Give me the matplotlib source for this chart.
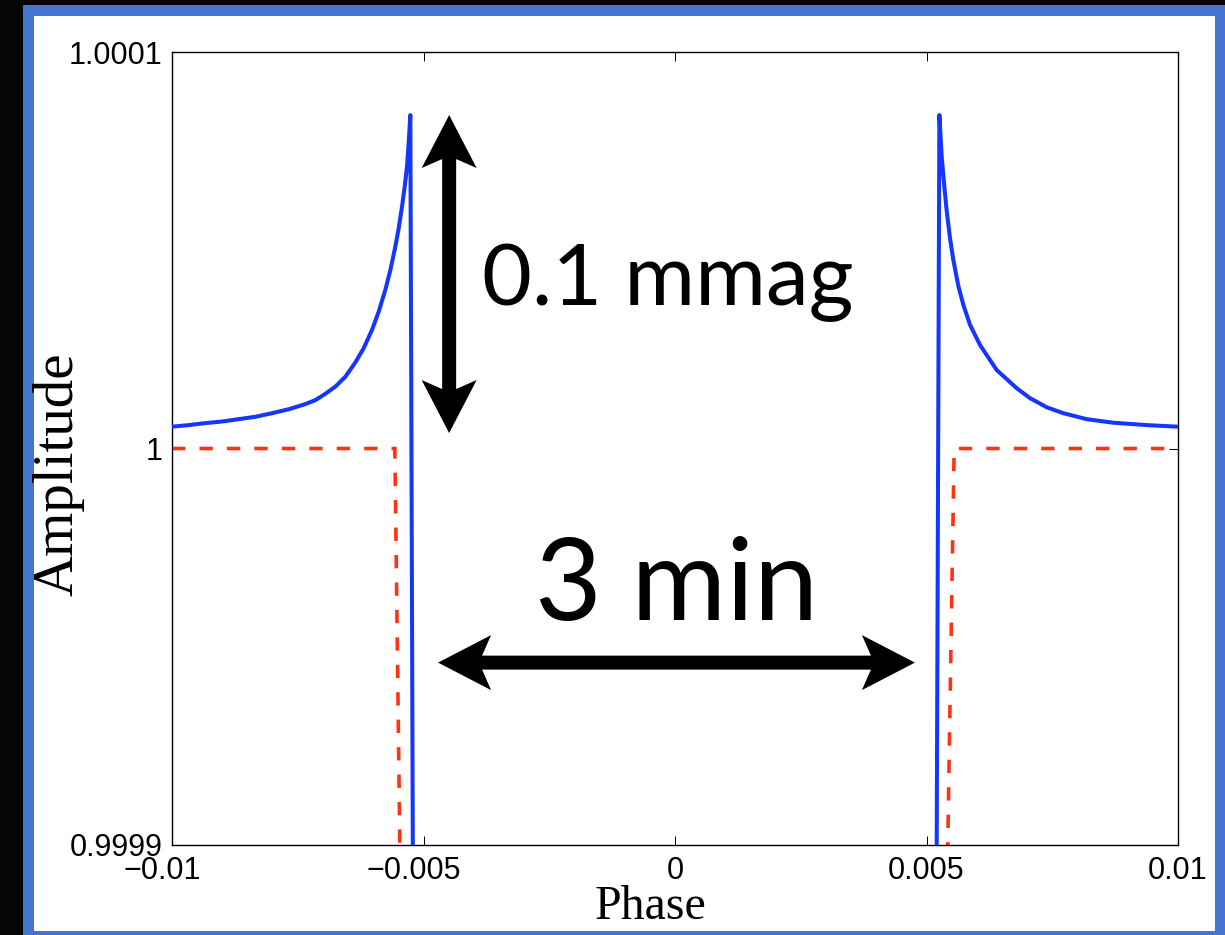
import numpy as np
import matplotlib
matplotlib.use("Agg")
import matplotlib.pyplot as plt
from matplotlib.patches import Rectangle, Polygon
from matplotlib.transforms import IdentityTransform, offset_copy

# ---------------- data ----------------
phase_blue = [-0.01000, -0.009669, -0.009337, -0.009006, -0.008675, -0.008343, -0.008012,
              -0.007681, -0.007349, -0.007150, -0.006952, -0.006753, -0.006554, -0.006355,
              -0.006189, -0.006024, -0.005891, -0.005759, -0.005659, -0.005560, -0.005494,
              -0.005427, -0.005374, -0.005328, -0.005295, -0.005262, -0.005210,
              0.005200, 0.005256, 0.005302, 0.005348, 0.005401, 0.005468, 0.005534,
              0.005633, 0.005733, 0.005865, 0.006064, 0.006395, 0.006793, 0.007058,
              0.007389, 0.007721, 0.008185, 0.008715, 0.009378, 0.010000]
amp_blue = [1.0000055, 1.0000059, 1.0000064, 1.0000068, 1.0000074, 1.0000080, 1.0000089,
            1.0000099, 1.0000112, 1.0000122, 1.0000138, 1.0000156, 1.0000181, 1.0000217,
            1.0000253, 1.0000299, 1.0000345, 1.0000400, 1.0000450, 1.0000509, 1.0000555,
            1.0000610, 1.0000660, 1.0000711, 1.0000770, 1.0000841, 0.9998900,
            0.9998900, 1.0000841, 1.0000736, 1.0000670, 1.0000600, 1.0000530, 1.0000475,
            1.0000410, 1.0000362, 1.0000312, 1.0000261, 1.0000198, 1.0000152, 1.0000127,
            1.0000104, 1.0000089, 1.0000074, 1.0000065, 1.0000059, 1.0000055]

phase_red = [-0.0100, -0.00557, -0.00546, 0.00541, 0.00555, 0.0100]
amp_red = [1.0, 1.0, 0.99989, 0.99989, 1.0, 1.0]

xticks = [-0.01, -0.005, 0.0, 0.005, 0.01]
xtick_labels = ["\u22120.01", "\u22120.005", "0", "0.005", "0.01"]
yticks = [0.9999, 1.0, 1.0001]
ytick_labels = ["0.9999", "1", "1.0001"]

xlabel = "Phase"
ylabel = "Amplitude"

# annotation anchors (data coords)
vert_arrow = ((-0.00449, 1.0000841), (-0.00449, 1.0000039))
horiz_arrow = ((-0.00471, 0.9999460), (0.00477, 0.9999460))
amp_text = (-0.00384, 1.0000362, "0.1 mmag")
time_text = (-0.00278, 0.9999568, "3 min")

# ---------------- figure ----------------
W, H = 1225, 935
DPI = 100
fig = plt.figure(figsize=(W / DPI, H / DPI), dpi=DPI, facecolor="#050505")


def fx(px):
    return px / W


def fy(py):
    return 1 - py / H


# slide background: blue frame and white panel
fig.patches.append(Rectangle((fx(23), 0), fx(W - 23), 1 - 5 / H, transform=fig.transFigure,
                             facecolor="#4574cf", edgecolor="none", zorder=-10))
fig.patches.append(Rectangle((fx(34), fy(931)), fx(1215 - 34), (931 - 16) / H,
                             transform=fig.transFigure, facecolor="white",
                             edgecolor="none", zorder=-9))

ax = fig.add_axes([fx(172), fy(845), fx(1178 - 172), (845 - 52) / H])
ax.set_facecolor("white")

ax.plot(phase_red, amp_red, color="#ff3212", lw=2.6, linestyle=(0, (3.7, 3.9)),
        dash_joinstyle="miter", zorder=2)
ax.plot(phase_blue, amp_blue, color="#1436ff", lw=2.9, solid_joinstyle="round",
        solid_capstyle="round", zorder=3)

ax.set_xlim(-0.01, 0.01)
ax.set_ylim(0.9999, 1.0001)

for s in ax.spines.values():
    s.set_linewidth(1.0)
    s.set_color("black")

ax.set_xticks(xticks)
ax.set_yticks(yticks)
ax.set_yticklabels(ytick_labels, fontsize=22, family="Liberation Sans")
ax.tick_params(axis="both", direction="in", length=6.5, width=0.7,
               top=True, right=True, labelbottom=False)
ax.tick_params(axis="y", pad=7.0)

# x tick labels: number part centred on the tick, minus hanging to the left
for v, lab in zip(xticks, xtick_labels):
    dx = -10 if lab.startswith("\u2212") else 0
    tr = offset_copy(ax.get_xaxis_transform(), fig=fig, x=dx, y=-11, units="dots")
    ax.text(v, 0, lab, transform=tr, ha="center", va="top", fontsize=22,
            family="Liberation Sans", clip_on=False)

fig.text(fx(58.5), fy(474.5), ylabel, rotation=90, ha="center", va="center",
         fontsize=41, family="Liberation Serif")
fig.text(fx(650), fy(919), xlabel, ha="center", va="baseline",
         fontsize=34.5, family="Liberation Serif")


def double_arrow(ax, p0, p1, shaft=14, head_w=55, head_l=53, notch=9):
    a = ax.transData.transform(p0)
    b = ax.transData.transform(p1)
    d = b - a
    L = np.hypot(*d)
    u = d / L
    v = np.array([-u[1], u[0]])
    local = [(0, 0), (head_l, head_w / 2), (head_l - notch, shaft / 2),
             (L - head_l + notch, shaft / 2), (L - head_l, head_w / 2), (L, 0),
             (L - head_l, -head_w / 2), (L - head_l + notch, -shaft / 2),
             (head_l - notch, -shaft / 2), (head_l, -head_w / 2)]
    pts = [a + s * u + t * v for s, t in local]
    ax.add_patch(Polygon(pts, closed=True, transform=IdentityTransform(),
                         facecolor="black", edgecolor="none", clip_on=False, zorder=5))


double_arrow(ax, *vert_arrow)
double_arrow(ax, *horiz_arrow)

ax.text(amp_text[0], amp_text[1], amp_text[2], ha="left", va="baseline",
        fontsize=62, family="Lato", zorder=6)
ax.text(time_text[0], time_text[1], time_text[2], ha="left", va="baseline",
        fontsize=83, family="Lato", zorder=6)

fig.savefig("out.png", dpi=DPI, facecolor=fig.get_facecolor())
